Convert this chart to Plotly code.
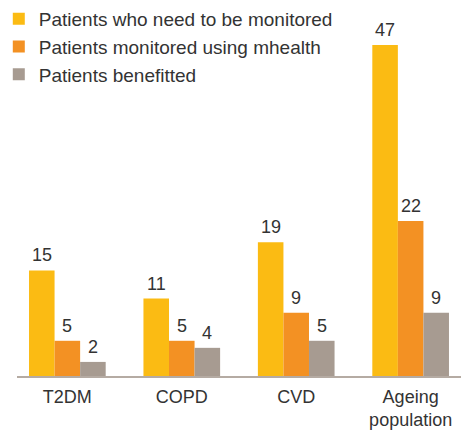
import plotly.graph_objects as go

# Data
categories = ["T2DM", "COPD", "CVD", "Ageing<br>population"]
need_monitoring = [15, 11, 19, 47]
monitored_mhealth = [5, 5, 9, 22]
benefitted = [2, 4, 5, 9]

series = [
    ("Patients who need to be monitored", need_monitoring, "#FBBB13"),
    ("Patients monitored using mhealth", monitored_mhealth, "#F39123"),
    ("Patients benefitted", benefitted, "#A79B91"),
]

fig = go.Figure()
for name, vals, col in series:
    fig.add_trace(go.Bar(
        name=name, x=categories, y=vals,
        marker=dict(color=col, line=dict(width=0)),
    ))

# value labels above each bar (pixel offset per bar within the group)
bar_px = 25.5
for i, (name, vals, col) in enumerate(series):
    for cat, v in zip(categories, vals):
        fig.add_annotation(
            x=cat, y=v, text=str(v), showarrow=False,
            xanchor="center", yanchor="bottom",
            xshift=(i - 1) * bar_px, yshift=3,
            font=dict(size=18, color="#333333", family="Liberation Sans"),
        )

fig.update_layout(
    width=467, height=432,
    barmode="group", bargap=0.33, bargroupgap=0,
    paper_bgcolor="white", plot_bgcolor="white",
    font=dict(family="Liberation Sans", size=18, color="#333333"),
    margin=dict(l=17, r=6, t=0, b=56, autoexpand=False),
    showlegend=True,
    legend=dict(
        x=-0.041, y=1.0, xref="paper", yref="paper",
        xanchor="left", yanchor="top",
        bgcolor="rgba(0,0,0,0)",
        font=dict(size=19, color="#333333"),
        tracegroupgap=0,
    ),
    xaxis=dict(
        range=[-0.44, 3.44], showgrid=False, zeroline=False,
        showline=True, linecolor="#B5ABA3", linewidth=2,
        ticks="", tickangle=0, ticklabelstandoff=3,
        tickfont=dict(size=18, color="#333333"),
    ),
    yaxis=dict(
        range=[0, 53.4], visible=False, showgrid=False, zeroline=False,
    ),
)

# drop the page's default body margin so the figure sits at the window's corner
fig.write_html(
    "out.html",
    config={"displayModeBar": False},
    post_script="document.body.style.margin='0';",
)
